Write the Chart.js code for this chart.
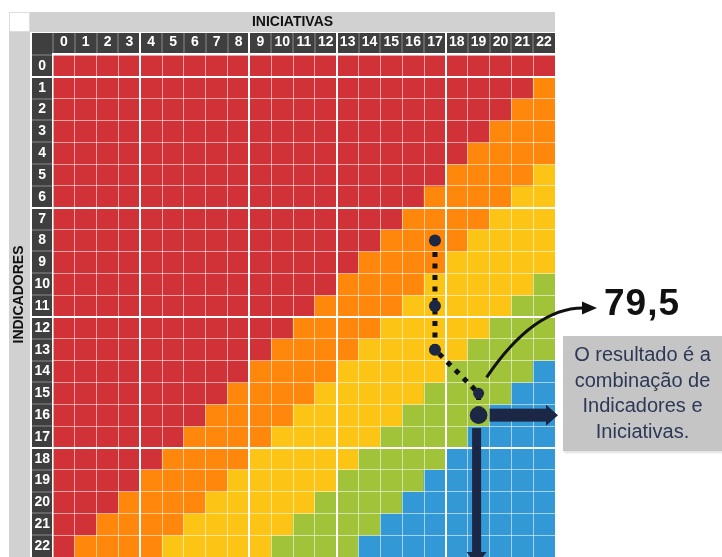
<!DOCTYPE html>
<html>
<head>
<meta charset="utf-8">
<script src="https://cdn.jsdelivr.net/npm/chart.js@4.4.1/dist/chart.umd.min.js"></script>
<style>
  body { margin: 0; background: #fff; }
  #wrap { position: relative; width: 722px; height: 557px; overflow: hidden; }
  #score { position: absolute; left: 604px; top: 282px; font: bold 37px "Liberation Sans", Arial, sans-serif; color: #111; letter-spacing: 1px; }
  #note { position: absolute; left: 563px; top: 336px; width: 159px; height: 115px; box-sizing: border-box; padding-top: 6px;
          background: #c5c5c5; box-shadow: 1px 2px 2px rgba(0,0,0,0.12); color: #2c3856; text-align: center;
          font: 20px "Liberation Sans", Arial, sans-serif; line-height: 25.5px; }
  canvas { display: block; }
</style>
</head>
<body>
<div id="wrap">
  <canvas id="chart" width="722" height="557"></canvas>
  <div id="score">79,5</div>
  <div id="note">O resultado é a<br>combinação de<br>Indicadores e<br>Iniciativas.</div>
</div>
<script>
// columns = iniciativas, rows = indicadores
const iniciativas = ['0','1','2','3','4','5','6','7','8','9','10','11','12','13','14','15','16','17','18','19','20','21','22'];
const indicadores = ['0','1','2','3','4','5','6','7','8','9','10','11','12','13','14','15','16','17','18','19','20','21','22'];

// colour zone of every cell, one string per row (spaces only for reading)
const zoneRows = [
  'RRRRRRRRRR RRRRRRRRRR RRR',
  'RRRRRRRRRR RRRRRRRRRR RR O',
  'RRRRRRRRRR RRRRRRRRRR R OO',
  'RRRRRRRRRR RRRRRRRRRR OOO',
  'RRRRRRRRRR RRRRRRRRR OOOO',
  'RRRRRRRRRR RRRRRRRR OOOO Y',
  'RRRRRRRRRR RRRRRRR OOOO YY',
  'RRRRRRRRRR RRRRRR OOOO YYY',
  'RRRRRRRRRR RRRRR OOOO YYYY',
  'RRRRRRRRRR RRRR OOOO YYYYY',
  'RRRRRRRRRR RRR OOOO YYYYY G',
  'RRRRRRRRRR RR OOOO YYYYY GG',
  'RRRRRRRRRR R OOOO YYYYY GGG',
  'RRRRRRRRRR OOOO YYYYY GGGG',
  'RRRRRRRRR OOOO YYYYY GGGG B',
  'RRRRRRRR OOOO YYYYY GGGG BB',
  'RRRRRRR OOOO YYYYY GGGG BBB',
  'RRRRRR OOOO YYYYY GGGG BBBB',
  'RRRRR OOOO YYYYY GGGG BBBBB',
  'RRRR OOOO YYYYY GGGG BBBBBB',
  'RRR OOOO YYYYY GGGG BBBBBBB',
  'RR OOOO YYYYY GGGG BBBBBBBB',
  'R OOOO YYYYY GGGG BBBBBBBBB'
];
const zoneColors = { R: '#d03238', O: '#ff870c', Y: '#fcc516', G: '#a1c33a', B: '#3399d6' };

// path drawn on top of the grid (iniciativa, indicador)
const pathCols = [17, 17, 17, 19, 19];
const pathRows = [8, 11, 13, 15, 16];

// heavier white borders before these columns / rows
const thickCols = [4, 9, 13, 18];
const thickRows = [1, 7, 12, 18];

const DARK = '#3f3f3f';
const NAVY = '#1b2744';

const datasets = indicadores.map((r, i) => ({
  label: 'Indicador ' + r,
  data: iniciativas.map(() => 1),
  backgroundColor: zoneRows[i].replace(/ /g, '').split('').map(c => zoneColors[c]),
  borderWidth: 0,
  barPercentage: 1,
  categoryPercentage: 1
}));

function gridWidth(list) {
  return ctx => list.includes(ctx.index) ? 2 : 1;
}
function gridColor(list) {
  return ctx => list.includes(ctx.index) ? '#ffffff' : 'rgba(255,255,255,0.55)';
}

const framePlugin = {
  id: 'frame',
  beforeDraw(chart) {
    const ctx = chart.ctx, ca = chart.chartArea, xs = chart.scales.x, ys = chart.scales.y;
    const cw = xs.getPixelForValue(1) - xs.getPixelForValue(0);
    ctx.save();
    // gray title bands
    ctx.fillStyle = '#d2d1d2';
    ctx.fillRect(ca.left - 23, ca.top - 43, ca.right - ca.left + 23, 20);
    ctx.fillRect(ca.left - 44, ca.top - 23, 21, ca.bottom - ca.top + 23);
    ctx.strokeStyle = '#dddddd';
    ctx.lineWidth = 1;
    ctx.strokeRect(ca.left - 43.5, ca.top - 42.5, 20, 19);
    // dark header bands
    ctx.fillStyle = DARK;
    ctx.fillRect(ca.left - 21, ca.top - 22, ca.right - ca.left + 21, 20);
    ctx.fillRect(ca.left - 21, ca.top - 22, 20, ca.bottom - ca.top + 22);
    // separators inside the dark bands
    for (let j = 0; j < iniciativas.length; j++) {
      const bx = Math.round(xs.getPixelForValue(j) - cw / 2);
      const thick = thickCols.includes(j);
      ctx.fillStyle = thick ? '#ffffff' : 'rgba(255,255,255,0.4)';
      ctx.fillRect(bx - (thick ? 1 : 0.5), ca.top - 22, thick ? 2 : 1, 20);
    }
    for (let i = 0; i < indicadores.length; i++) {
      const by = Math.round(ys.getPixelForValue(i));
      const thick = thickRows.includes(i);
      ctx.fillStyle = thick ? '#ffffff' : 'rgba(255,255,255,0.4)';
      ctx.fillRect(ca.left - 21, by - (thick ? 1 : 0.5), 20, thick ? 2 : 1);
    }
    // band titles
    ctx.fillStyle = '#111';
    ctx.font = 'bold 14px "Liberation Sans", Arial, sans-serif';
    ctx.textAlign = 'center';
    ctx.textBaseline = 'middle';
    ctx.fillText('INICIATIVAS', (ca.left - 23 + ca.right) / 2, ca.top - 33);
    ctx.translate(ca.left - 33.5, (ca.top - 23 + ca.bottom) / 2);
    ctx.rotate(-Math.PI / 2);
    ctx.fillText('INDICADORES', 0, 0);
    ctx.restore();
  },
  afterDraw(chart) {
    const ctx = chart.ctx, ca = chart.chartArea, xs = chart.scales.x, ys = chart.scales.y;
    const pts = pathCols.map((c, k) => ({ x: xs.getPixelForValue(c), y: ys.getPixelForValue(pathRows[k] + 0.5) }));
    ctx.save();
    // dotted path
    ctx.strokeStyle = '#111';
    ctx.lineWidth = 5;
    ctx.setLineDash([5, 6.5]);
    ctx.beginPath();
    ctx.moveTo(pts[0].x, pts[0].y);
    for (let k = 1; k < pts.length; k++) ctx.lineTo(pts[k].x, pts[k].y);
    ctx.stroke();
    ctx.setLineDash([]);
    // dots
    const radii = [6, 6, 6, 5.5, 8.8];
    ctx.fillStyle = NAVY;
    pts.forEach((p, k) => {
      ctx.beginPath();
      ctx.arc(p.x, p.y, radii[k], 0, Math.PI * 2);
      ctx.fill();
    });
    const p = pts[pts.length - 1];
    // arrow to the right
    ctx.fillRect(p.x + 11, p.y - 6.5, ca.right - 8 - (p.x + 11), 13);
    ctx.beginPath();
    ctx.moveTo(ca.right - 9, p.y - 10.5);
    ctx.lineTo(ca.right + 3, p.y);
    ctx.lineTo(ca.right - 9, p.y + 10.5);
    ctx.closePath();
    ctx.fill();
    // arrow down
    const dx = p.x - 2;
    ctx.fillRect(dx - 4.5, p.y + 13, 9, ca.bottom - 4 - (p.y + 13));
    ctx.beginPath();
    ctx.moveTo(dx - 10, ca.bottom - 5);
    ctx.lineTo(dx, ca.bottom + 8);
    ctx.lineTo(dx + 10, ca.bottom - 5);
    ctx.closePath();
    ctx.fill();
    // curved arrow towards the result
    const s = { x: pts[3].x + 8, y: pts[3].y - 16 };
    const e = { x: ca.right + 28, y: ca.top + 253 };
    ctx.strokeStyle = '#111';
    ctx.fillStyle = '#111';
    ctx.lineWidth = 3;
    ctx.beginPath();
    ctx.moveTo(s.x, s.y);
    ctx.quadraticCurveTo(s.x + 47, e.y, e.x, e.y);
    ctx.stroke();
    ctx.beginPath();
    ctx.moveTo(e.x - 1, e.y - 6.5);
    ctx.lineTo(e.x + 14, e.y);
    ctx.lineTo(e.x - 1, e.y + 6.5);
    ctx.closePath();
    ctx.fill();
    ctx.restore();
  }
};

const tickFont = { family: '"Liberation Sans", Arial, sans-serif', size: 14, weight: 'bold' };

new Chart(document.getElementById('chart'), {
  type: 'bar',
  data: { labels: iniciativas, datasets: datasets },
  options: {
    responsive: false,
    animation: false,
    events: [],
    layout: { padding: { left: 9, top: 12, right: 167, bottom: 0 } },
    plugins: { legend: { display: false }, tooltip: { enabled: false } },
    scales: {
      x: {
        position: 'top',
        stacked: true,
        offset: true,
        grid: { offset: true, z: 1, drawTicks: false, color: gridColor(thickCols), lineWidth: gridWidth(thickCols) },
        border: { display: false },
        ticks: { color: '#fff', font: tickFont, padding: 4, maxRotation: 0, autoSkip: false },
        afterFit: s => { s.height = 43; s.paddingLeft = 0; s.paddingRight = 0; }
      },
      y: {
        display: false,
        stacked: true,
        min: 0,
        max: indicadores.length,
        reverse: true
      },
      y2: {
        type: 'category',
        labels: indicadores,
        position: 'left',
        offset: true,
        grid: { offset: true, z: 1, drawTicks: false, color: gridColor(thickRows), lineWidth: gridWidth(thickRows) },
        border: { display: false },
        ticks: { color: '#fff', font: tickFont, padding: 3, crossAlign: 'center', autoSkip: false },
        afterFit: s => { s.width = 44; s.paddingTop = 0; s.paddingBottom = 0; }
      }
    }
  },
  plugins: [framePlugin]
});
</script>
</body>
</html>
